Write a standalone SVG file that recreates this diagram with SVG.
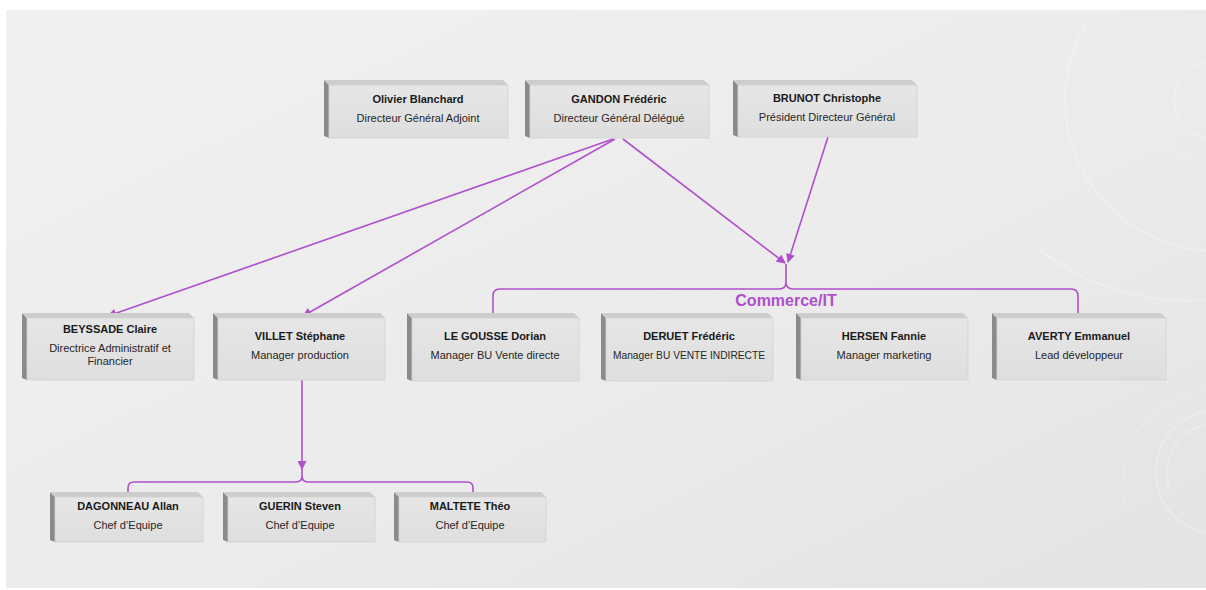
<svg xmlns="http://www.w3.org/2000/svg" width="1206" height="590" viewBox="0 0 1206 590">
<defs>
  <linearGradient id="bg" x1="0" y1="0" x2="1" y2="1">
    <stop offset="0" stop-color="#f1f1f1"/>
    <stop offset="0.6" stop-color="#ebebeb"/>
    <stop offset="1" stop-color="#e3e3e3"/>
  </linearGradient>
  <linearGradient id="face" x1="0" y1="0" x2="0" y2="1">
    <stop offset="0" stop-color="#e6e6e6"/>
    <stop offset="1" stop-color="#dedede"/>
  </linearGradient>
  <marker id="arr" viewBox="0 0 10 10" refX="9" refY="5" markerWidth="11" markerHeight="9" markerUnits="userSpaceOnUse" orient="auto">
    <path d="M0,0 L10,5 L0,10 z" fill="#b04fcc"/>
  </marker>
  <style>
    .face{fill:url(#face);stroke:#d2d2d2;stroke-width:0.8}
    .top{fill:#cdcdcd}
    .side{fill:#8b8b8b}
    .nm{font-family:"Liberation Sans",Arial,sans-serif;font-size:11px;font-weight:bold;fill:#1a1a1a;text-anchor:middle}
    .tt{font-family:"Liberation Sans",Arial,sans-serif;font-size:11px;fill:#262626;text-anchor:middle}
    .con{fill:none;stroke:#b04fcc;stroke-width:1.6}
    .deco{fill:none;stroke:#ffffff;stroke-width:1.2;opacity:0.35}
    .lbl{font-family:"Liberation Sans",Arial,sans-serif;font-size:16px;font-weight:bold;fill:#b04fcc;text-anchor:middle}
  </style>
</defs>
<rect x="0" y="0" width="1206" height="590" fill="#ffffff"/>
<rect x="6" y="10" width="1200" height="578" fill="url(#bg)"/>

<g id="decoration">
  <circle class="deco" cx="1216" cy="100" r="151"/>
  <circle class="deco" cx="1212" cy="100" r="38" stroke-width="1.6"/>
  <path class="deco" d="M1160 140 A 62 62 0 0 0 1206 162" stroke-dasharray="3 4"/>
  <path class="deco" d="M1040 250 A 240 240 0 0 0 1206 300" opacity="0.25"/>
  <circle class="deco" cx="1218" cy="472" r="62"/>
  <path class="deco" d="M1206 425 A 48 48 0 0 0 1170 490" stroke-width="1.8"/>
  <path class="deco" d="M1206 390 A 95 95 0 0 0 1125 505" stroke-dasharray="4 5" opacity="0.25"/>
</g>

<g id="connectors">
  <line class="con" x1="613" y1="139" x2="108" y2="316" marker-end="url(#arr)"/>
  <line class="con" x1="615" y1="139" x2="303" y2="316" marker-end="url(#arr)"/>
  <line class="con" x1="623" y1="139" x2="785" y2="263" marker-end="url(#arr)"/>
  <line class="con" x1="828" y1="137" x2="788" y2="262" marker-end="url(#arr)"/>
  <path class="con" d="M493 313 V296 Q493 289 500 289 H779 Q786 289 786 282 V264 M786 264 V282 Q786 289 793 289 H1071 Q1078 289 1078 296 V313"/>
  <line class="con" x1="302" y1="380" x2="302" y2="469" marker-end="url(#arr)"/>
  <path class="con" d="M128 492 V488 Q128 482 134 482 H296 Q302 482 302 476 V469 M302 469 V476 Q302 482 308 482 H467 Q473 482 473 488 V492"/>
  <text class="lbl" x="786" y="306">Commerce/IT</text>
</g>

<g id="n-blanchard">
  <polygon class="side" points="324,80 329,85 329,138 324,136"/>
  <polygon class="top" points="324,80 503,80 508,85 329,85"/>
  <rect class="face" x="329" y="85" width="179" height="53"/>
  <text class="nm" x="418" y="103">Olivier Blanchard</text>
  <text class="tt" x="418" y="122">Directeur Général Adjoint</text>
</g>
<g id="n-gandon">
  <polygon class="side" points="525,80 530,85 530,138 525,136"/>
  <polygon class="top" points="525,80 704,80 709,85 530,85"/>
  <rect class="face" x="530" y="85" width="179" height="53"/>
  <text class="nm" x="619" y="103">GANDON Frédéric</text>
  <text class="tt" x="619" y="122">Directeur Général Délégué</text>
</g>
<g id="n-brunot">
  <polygon class="side" points="733,80 738,85 738,137 733,135"/>
  <polygon class="top" points="733,80 912,80 917,85 738,85"/>
  <rect class="face" x="738" y="85" width="179" height="52"/>
  <text class="nm" x="827" y="102">BRUNOT Christophe</text>
  <text class="tt" x="827" y="121">Président Directeur Général</text>
</g>

<g id="n-beyssade">
  <polygon class="side" points="22,313 27,318 27,380 22,378"/>
  <polygon class="top" points="22,313 189,313 194,318 27,318"/>
  <rect class="face" x="27" y="318" width="167" height="62"/>
  <text class="nm" x="110" y="333">BEYSSADE Claire</text>
  <text class="tt" x="110" y="352">Directrice Administratif et</text>
  <text class="tt" x="110" y="365">Financier</text>
</g>
<g id="n-villet">
  <polygon class="side" points="213,313 218,318 218,380 213,378"/>
  <polygon class="top" points="213,313 380,313 385,318 218,318"/>
  <rect class="face" x="218" y="318" width="167" height="62"/>
  <text class="nm" x="300" y="340">VILLET Stéphane</text>
  <text class="tt" x="300" y="359">Manager production</text>
</g>
<g id="n-legousse">
  <polygon class="side" points="407,313 412,318 412,381 407,379"/>
  <polygon class="top" points="407,313 574,313 579,318 412,318"/>
  <rect class="face" x="412" y="318" width="167" height="63"/>
  <text class="nm" x="495" y="340">LE GOUSSE Dorian</text>
  <text class="tt" x="495" y="359">Manager BU Vente directe</text>
</g>
<g id="n-deruet">
  <polygon class="side" points="601,313 606,318 606,381 601,379"/>
  <polygon class="top" points="601,313 768,313 773,318 606,318"/>
  <rect class="face" x="606" y="318" width="167" height="63"/>
  <text class="nm" x="689" y="340">DERUET Frédéric</text>
  <text class="tt" x="689" y="359" textLength="152" lengthAdjust="spacingAndGlyphs">Manager BU VENTE INDIRECTE</text>
</g>
<g id="n-hersen">
  <polygon class="side" points="796,313 801,318 801,380 796,378"/>
  <polygon class="top" points="796,313 963,313 968,318 801,318"/>
  <rect class="face" x="801" y="318" width="167" height="62"/>
  <text class="nm" x="884" y="340">HERSEN Fannie</text>
  <text class="tt" x="884" y="359">Manager marketing</text>
</g>
<g id="n-averty">
  <polygon class="side" points="992,313 997,318 997,380 992,378"/>
  <polygon class="top" points="992,313 1161,313 1166,318 997,318"/>
  <rect class="face" x="997" y="318" width="169" height="62"/>
  <text class="nm" x="1079" y="340">AVERTY Emmanuel</text>
  <text class="tt" x="1079" y="359">Lead développeur</text>
</g>

<g id="n-dagonneau">
  <polygon class="side" points="50,492 55,497 55,542 50,540"/>
  <polygon class="top" points="50,492 198,492 203,497 55,497"/>
  <rect class="face" x="55" y="497" width="148" height="45"/>
  <text class="nm" x="128" y="510">DAGONNEAU Allan</text>
  <text class="tt" x="128" y="529">Chef d’Equipe</text>
</g>
<g id="n-guerin">
  <polygon class="side" points="223,492 228,497 228,542 223,540"/>
  <polygon class="top" points="223,492 370,492 375,497 228,497"/>
  <rect class="face" x="228" y="497" width="147" height="45"/>
  <text class="nm" x="300" y="510">GUERIN Steven</text>
  <text class="tt" x="300" y="529">Chef d’Equipe</text>
</g>
<g id="n-maltete">
  <polygon class="side" points="394,492 399,497 399,542 394,540"/>
  <polygon class="top" points="394,492 541,492 546,497 399,497"/>
  <rect class="face" x="399" y="497" width="147" height="45"/>
  <text class="nm" x="470" y="510">MALTETE Théo</text>
  <text class="tt" x="470" y="529">Chef d’Equipe</text>
</g>
</svg>
